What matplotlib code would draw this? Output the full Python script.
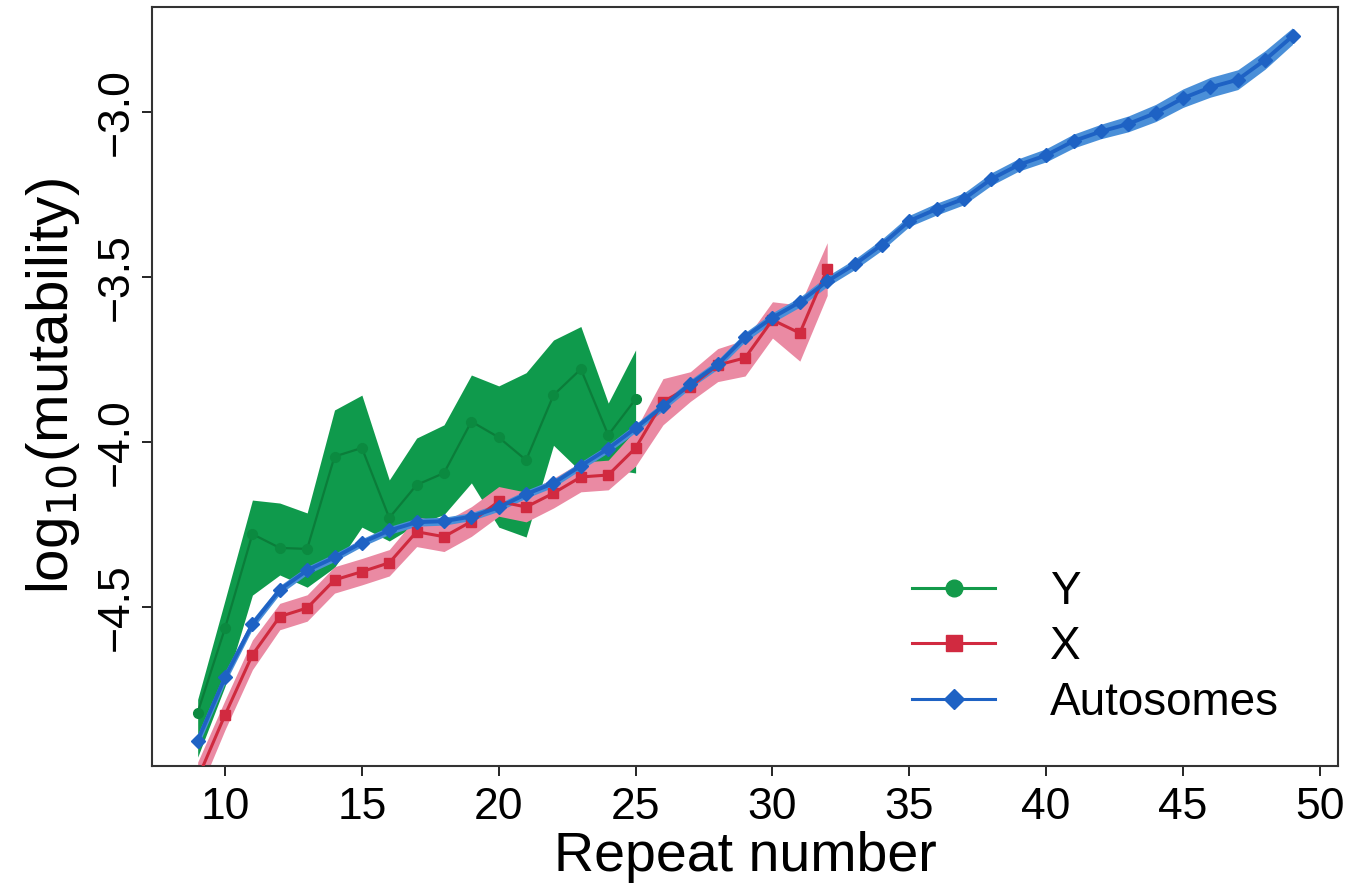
import numpy as np
import matplotlib
matplotlib.use("Agg")
import matplotlib.pyplot as plt

plt.rcParams["font.family"] = ["Liberation Sans", "DejaVu Sans"]

# Y chromosome
y_repeats = np.arange(9, 26)
y_mean = [-4.82, -4.564, -4.279, -4.321, -4.324, -4.044, -4.018, -4.23, -4.13,
          -4.094, -3.938, -3.986, -4.055, -3.858, -3.779, -3.979, -3.87]
y_upper = [-4.78, -4.479, -4.176, -4.185, -4.215, -3.903, -3.858, -4.115, -3.988,
           -3.948, -3.797, -3.83, -3.79, -3.691, -3.65, -3.882, -3.721]
y_lower = [-4.955, -4.74, -4.464, -4.403, -4.44, -4.38, -4.258, -4.30, -4.25,
           -4.22, -4.124, -4.258, -4.288, -4.01, -4.09, -4.08, -4.094]

# X chromosome
x_repeats = np.arange(9, 33)
x_mean = [-5.02, -4.827, -4.645, -4.529, -4.503, -4.418, -4.393, -4.366, -4.272,
          -4.287, -4.241, -4.18, -4.197, -4.155, -4.106, -4.1, -4.018, -3.878,
          -3.832, -3.767, -3.745, -3.63, -3.67, -3.476]
x_halfwidth = [0.05, 0.045, 0.045, 0.04, 0.04, 0.04, 0.04, 0.04, 0.045,
               0.045, 0.045, 0.045, 0.045, 0.045, 0.045, 0.045, 0.055, 0.07,
               0.045, 0.05, 0.055, 0.055, 0.085, 0.08]

# Autosomes
a_repeats = np.arange(9, 50)
a_mean = [-4.905, -4.713, -4.552, -4.448, -4.389, -4.35, -4.305, -4.268, -4.243,
          -4.24, -4.226, -4.198, -4.158, -4.125, -4.072, -4.02, -3.958, -3.892,
          -3.824, -3.765, -3.682, -3.623, -3.576, -3.513, -3.462, -3.402, -3.33,
          -3.294, -3.263, -3.203, -3.16, -3.131, -3.088, -3.059, -3.036, -3.003,
          -2.958, -2.925, -2.902, -2.842, -2.77]
a_halfwidth = [0.02, 0.018, 0.015, 0.013, 0.012, 0.012, 0.012, 0.012, 0.012,
               0.012, 0.012, 0.012, 0.012, 0.012, 0.012, 0.012, 0.013, 0.013,
               0.013, 0.014, 0.014, 0.015, 0.015, 0.016, 0.016, 0.017, 0.017,
               0.018, 0.018, 0.019, 0.019, 0.02, 0.021, 0.022, 0.024, 0.026,
               0.028, 0.03, 0.03, 0.028, 0.025]

y_ticks = [-4.5, -4.0, -3.5, -3.0]
x_ticks = [10, 15, 20, 25, 30, 35, 40, 45, 50]

fig = plt.figure(figsize=(13.52, 8.86), dpi=100)
ax = fig.add_axes([0.1124, 0.1354, 0.8772, 0.8566])

x_mean = np.array(x_mean)
x_halfwidth = np.array(x_halfwidth)
a_mean = np.array(a_mean)
a_halfwidth = np.array(a_halfwidth)

ax.fill_between(y_repeats, y_lower, y_upper, color="#0f9a4c", lw=0, zorder=1)
ax.fill_between(x_repeats, x_mean - x_halfwidth, x_mean + x_halfwidth,
                color="#ea8aa3", lw=0, zorder=2)
ax.fill_between(a_repeats, a_mean - a_halfwidth, a_mean + a_halfwidth,
                color="#4a8fd8", lw=0, zorder=3)

ax.plot(y_repeats, y_mean, color="#0b7d3a", lw=1.6, marker="o", ms=7,
        mfc="#0b8a40", mec="#0b8a40", zorder=4)
ax.plot(x_repeats, x_mean, color="#cf2a3e", lw=2.2, marker="s", ms=7,
        mfc="#d12a40", mec="#d12a40", zorder=5)
ax.plot(a_repeats, a_mean, color="#1e62c4", lw=2.8, marker="D", ms=7,
        mfc="#1e62c4", mec="#1e62c4", zorder=6)

# legend handles: thin lines with large markers
ax.plot([], [], color="#139a4a", lw=2.2, marker="o", ms=12, label="Y")
ax.plot([], [], color="#d12a40", lw=2.2, marker="s", ms=11, label="X")
ax.plot([], [], color="#1e62c4", lw=2.2, marker="D", ms=10, label="Autosomes")

ax.set_xlim(7.33, 50.66)
ax.set_ylim(-4.982, -2.682)
ax.set_xticks(x_ticks)
ax.set_yticks(y_ticks)
ax.set_yticklabels(["\u22124.5", "\u22124.0", "\u22123.5", "\u22123.0"],
                   rotation=90, va="center")
ax.tick_params(labelsize=32, length=7, width=1.2, pad=8)
ax.tick_params(axis="y", pad=4)
for spine in ax.spines.values():
    spine.set_linewidth(1.5)
    spine.set_color("#333333")

ax.set_xlabel("Repeat number", fontsize=40, labelpad=2)
ax.set_ylabel("log$_{10}$(mutability)", fontsize=42, labelpad=10)

leg = ax.legend(loc="lower right", bbox_to_anchor=(0.985, 0.0), frameon=False,
                fontsize=33, handlelength=1.8, labelspacing=0.25,
                handletextpad=1.2)

fig.savefig("out.png", dpi=100)
